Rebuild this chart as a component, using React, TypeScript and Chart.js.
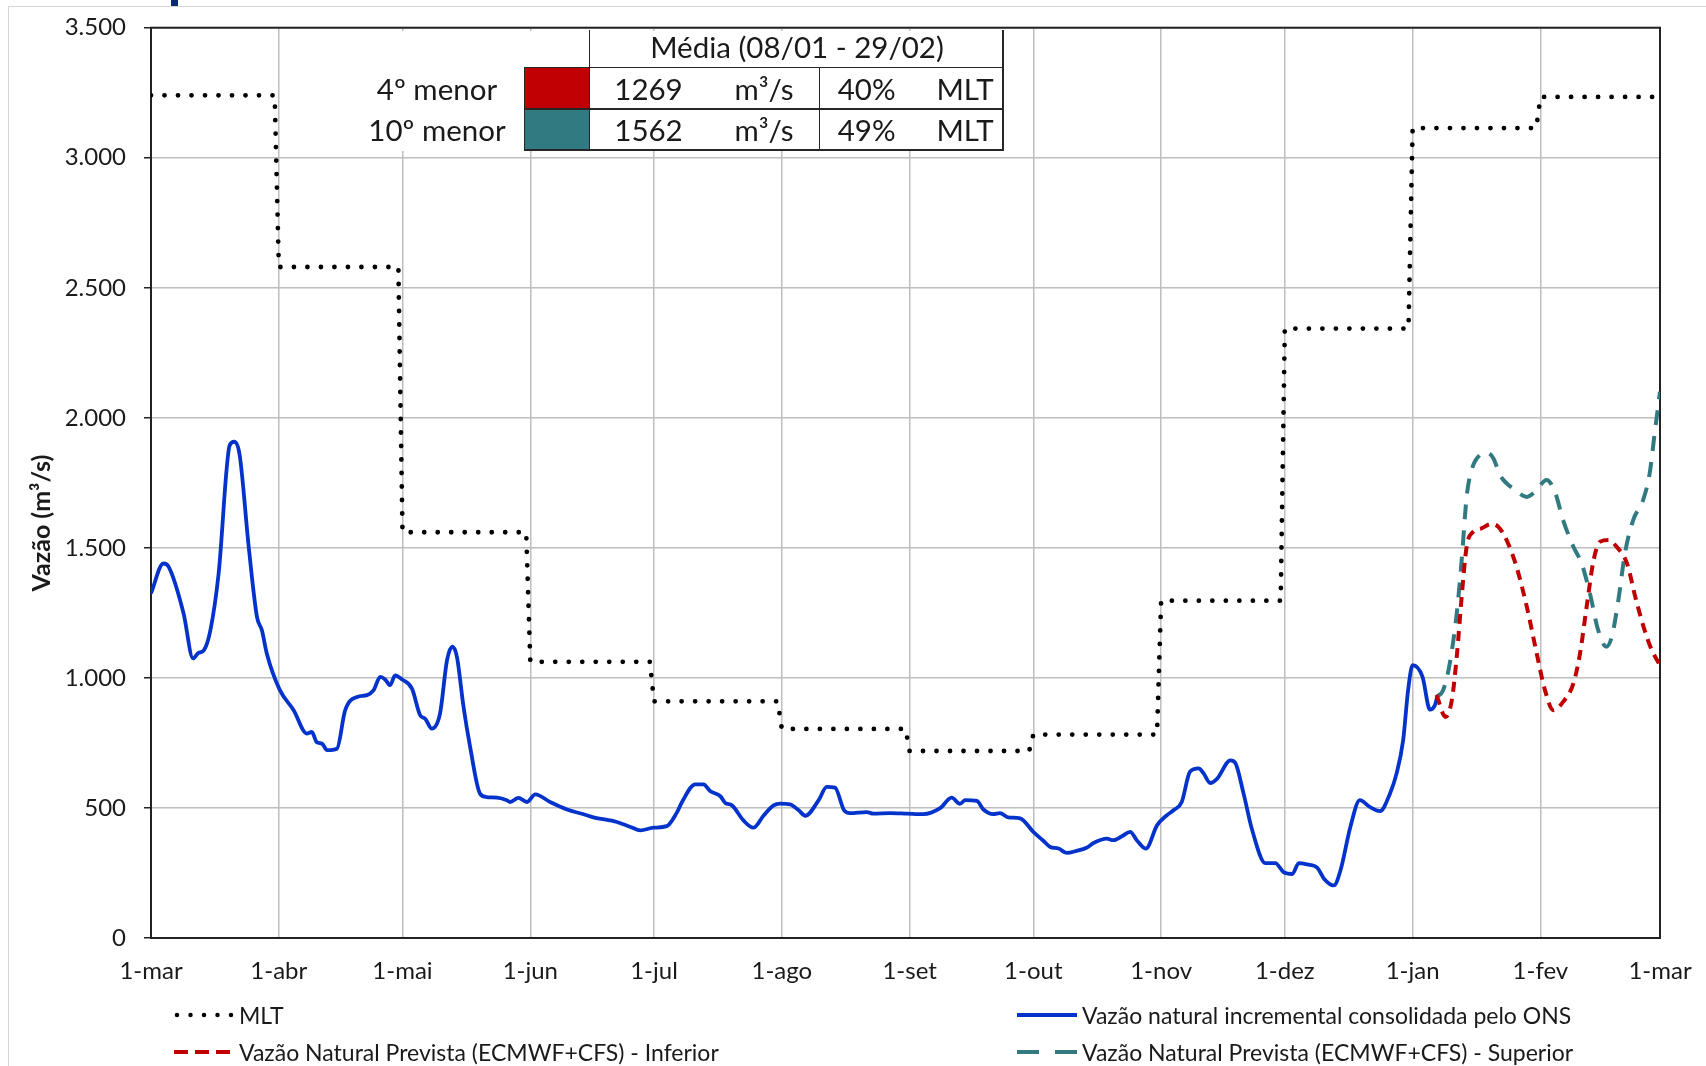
import React, { useEffect, useRef } from "react";
import { Chart, registerables } from "chart.js";

Chart.register(...registerables);

// ---------- DATA ----------
// x values are days counted from 1-mar (day 0) to 1-mar of the next year (day 366)
const monthStartDays = [0, 31, 61, 92, 122, 153, 184, 214, 245, 275, 306, 337, 366];
const monthLabels = ["1-mar", "1-abr", "1-mai", "1-jun", "1-jul", "1-ago", "1-set", "1-out", "1-nov", "1-dez", "1-jan", "1-fev", "1-mar"];

// MLT (monthly long-term mean), one value per month mar..fev
const mltMonthValues = [3240, 2580, 1560, 1062, 910, 804, 719, 782, 1297, 2343, 3114, 3234];

// Observed incremental natural flow (ONS)
const observedDays = [0, 3, 4.3, 7.9, 10.2, 11.5, 12.8, 14.4, 16.4, 19.1, 20.2, 21.5, 23.7, 25.7, 26.9, 28.1, 31.2, 34.6, 37.8, 39, 40.2, 41.5, 42.7, 45.1, 47.1, 50, 52.4, 54, 55.6, 56.8, 58, 59.2, 60.9, 63.3, 65.3, 66.5, 68.1, 70.1, 71.8, 73.1, 74.2, 75.8, 77.4, 79.8, 81.4, 83.9, 86.3, 87.1, 89.1, 91.2, 93.2, 96.8, 100.9, 104.9, 107.3, 113, 116.3, 118.7, 121.9, 125.1, 127.5, 128.8, 132, 134, 135.6, 138.1, 139.3, 140.9, 143.7, 146.1, 148.6, 151, 152.6, 155, 157.1, 158.7, 161.9, 163.9, 165.9, 168.1, 169.5, 173.6, 175.2, 179.2, 183.3, 187.3, 191.4, 194.2, 196.2, 197.5, 200.3, 201.9, 204.3, 205.9, 207.9, 210.8, 214, 216.5, 218.1, 220.1, 222.1, 224.5, 226.9, 228.6, 231.8, 233.4, 235.5, 237.5, 239.1, 241.3, 244, 246.4, 248, 250, 252, 254.1, 255.3, 256.9, 258.6, 261.8, 263, 265, 267.1, 270.3, 272.7, 274.7, 276.8, 278.4, 280.4, 282.9, 284.5, 286.9, 288.5, 290.9, 293.2, 295.6, 298.1, 300.5, 302.1, 303.7, 304.9, 306, 308.4, 310.2, 311.4, 312];
const observedValues = [1325, 1440, 1427, 1248, 1075, 1096, 1106, 1183, 1401, 1895, 1908, 1857, 1504, 1235, 1183, 1093, 955, 876, 786, 792, 753, 747, 722, 728, 876, 927, 934, 953, 1004, 994, 972, 1010, 994, 959, 856, 843, 805, 863, 1068, 1120, 1081, 889, 735, 555, 542, 540, 530, 523, 539, 523, 552, 523, 494, 476, 464, 446, 427, 414, 424, 430, 481, 523, 591, 591, 565, 545, 519, 510, 452, 424, 471, 510, 517, 514, 491, 470, 529, 581, 578, 491, 480, 484, 478, 480, 478, 476, 499, 540, 516, 530, 527, 494, 476, 480, 464, 460, 408, 373, 350, 344, 327, 335, 347, 365, 382, 376, 391, 408, 376, 344, 433, 472, 491, 523, 639, 652, 633, 596, 613, 683, 673, 555, 414, 288, 288, 253, 246, 288, 283, 270, 228, 202, 260, 427, 530, 504, 488, 555, 632, 760, 953, 1049, 1004, 878, 895, 930];

// Forecast (ECMWF+CFS) - lower bound
const lowerDays = [311.8, 314, 315.5, 316.7, 317.9, 319.1, 320.7, 322.7, 325.1, 326.8, 328.8, 331.2, 333.7, 336.1, 338.1, 340.1, 342.5, 345, 346.6, 348.2, 349.9, 351.5, 353.5, 355.5, 358, 360, 362, 364, 366];
const lowerValues = [934, 850, 914, 1081, 1312, 1504, 1562, 1575, 1592, 1581, 1530, 1427, 1273, 1094, 953, 876, 908, 979, 1094, 1273, 1453, 1524, 1530, 1504, 1440, 1312, 1197, 1107, 1049];

// Forecast (ECMWF+CFS) - upper bound
const upperDays = [311.8, 313.4, 315, 316.7, 317.9, 319.1, 320.3, 322.3, 324, 325.6, 327.2, 328.8, 330.4, 333.7, 335.7, 338.5, 340.5, 342.5, 345, 347, 349, 351, 353, 354.3, 355.9, 357.5, 359.5, 361.9, 363.5, 364.7, 366];
const upperValues = [927, 953, 1055, 1248, 1453, 1696, 1799, 1857, 1866, 1844, 1780, 1748, 1728, 1696, 1716, 1761, 1716, 1607, 1504, 1440, 1325, 1184, 1120, 1158, 1299, 1479, 1607, 1684, 1787, 1940, 2100];

// Summary table
const tableHeader = "Média (08/01 - 29/02)";
const rankLabels = ["4º menor", "10º menor"];
const rankFlows = [1269, 1562];
const rankPercents = [40, 49];

// Legend labels
const labelMLT = "MLT";
const labelObserved = "Vazão natural incremental consolidada pelo ONS";
const labelLower = "Vazão Natural Prevista (ECMWF+CFS) - Inferior";
const labelUpper = "Vazão Natural Prevista (ECMWF+CFS) - Superior";
const yTitle = "Vazão (m³/s)";

// ---------- STYLE ----------
const COLOR_OBS = "#0433CC";
const COLOR_LOWER = "#C00000";
const COLOR_UPPER = "#327A82";
const COLOR_MLT = "#000000";
const FONT = "Lato, 'Open Sans', sans-serif";
const TEXT = "#1a1a1a";

const W = 1706;
const H = 1066;

function buildMlt() {
  const pts: { x: number; y: number }[] = [];
  mltMonthValues.forEach((v, i) => {
    const start = monthStartDays[i];
    const end = i === mltMonthValues.length - 1 ? 365 : monthStartDays[i + 1] - 1;
    pts.push({ x: start, y: v });
    pts.push({ x: end, y: v });
  });
  return pts;
}

const zip = (xs: number[], ys: number[]) => xs.map((x, i) => ({ x, y: ys[i] }));

const fmtThousands = (v: number) => {
  if (v >= 1000) {
    const t = Math.floor(v / 1000);
    const r = String(v % 1000).padStart(3, "0");
    return `${t}.${r}`;
  }
  return String(v);
};

const plotBorder = {
  id: "plotBorder",
  beforeDatasetsDraw(chart: any) {
    const { ctx, chartArea: a } = chart;
    ctx.save();
    ctx.strokeStyle = "#222222";
    ctx.lineWidth = 2;
    ctx.strokeRect(a.left, a.top, a.right - a.left, a.bottom - a.top);
    ctx.restore();
  },
};

function Line({ x1, y1, x2, y2 }: { x1: number; y1: number; x2: number; y2: number }) {
  const t = 1.6;
  return (
    <div
      style={{
        position: "absolute",
        left: x1 - t / 2,
        top: y1 - t / 2,
        width: x2 - x1 + t,
        height: y2 - y1 + t,
        background: "#262626",
      }}
    />
  );
}

function CText({ cx, cy, size, children, bold }: any) {
  return (
    <div
      style={{
        position: "absolute",
        left: cx - 200,
        top: cy - 20,
        width: 400,
        height: 40,
        lineHeight: "40px",
        textAlign: "center",
        fontFamily: FONT,
        fontSize: size,
        fontWeight: bold ? 700 : 400,
        color: TEXT,
        whiteSpace: "nowrap",
      }}
    >
      {children}
    </div>
  );
}

function LegendItem({ x, y, kind, label }: { x: number; y: number; kind: string; label: string }) {
  let sample: any = null;
  if (kind === "mlt") {
    sample = <line x1={3} y1={7} x2={58} y2={7} stroke={COLOR_MLT} strokeWidth={4.5} strokeLinecap="round" strokeDasharray="0 13.5" />;
  } else if (kind === "obs") {
    sample = <line x1={0} y1={7} x2={60} y2={7} stroke={COLOR_OBS} strokeWidth={4} />;
  } else if (kind === "lower") {
    sample = <line x1={0} y1={7} x2={56} y2={7} stroke={COLOR_LOWER} strokeWidth={4} strokeDasharray="14 7" />;
  } else {
    sample = <line x1={0} y1={7} x2={60} y2={7} stroke={COLOR_UPPER} strokeWidth={4} strokeDasharray="22 16" />;
  }
  return (
    <div style={{ position: "absolute", left: x, top: y - 16, height: 32, display: "flex", alignItems: "center", whiteSpace: "nowrap" }}>
      <svg width={62} height={14} style={{ display: "block" }}>
        {sample}
      </svg>
      <span style={{ marginLeft: 3, fontFamily: FONT, fontSize: 23, color: TEXT }}>{label}</span>
    </div>
  );
}

const zeroPadding = (scale: any) => {
  scale.paddingTop = 0;
  scale.paddingBottom = 0;
  scale.paddingLeft = 0;
  scale.paddingRight = 0;
};

export default function App() {
  const canvasRef = useRef<HTMLCanvasElement>(null);

  useEffect(() => {
    const canvas = canvasRef.current;
    if (!canvas) return;
    const chart = new Chart(canvas, {
      type: "line",
      data: {
        datasets: [
          {
            label: labelLower,
            data: zip(lowerDays, lowerValues),
            borderColor: COLOR_LOWER,
            borderWidth: 4,
            borderDash: [10, 7],
            pointRadius: 0,
            cubicInterpolationMode: "monotone",
            fill: false,
          },
          {
            label: labelUpper,
            data: zip(upperDays, upperValues),
            borderColor: COLOR_UPPER,
            borderWidth: 4,
            borderDash: [15, 11],
            pointRadius: 0,
            cubicInterpolationMode: "monotone",
            fill: false,
          },
          {
            label: labelObserved,
            data: zip(observedDays, observedValues),
            borderColor: COLOR_OBS,
            borderWidth: 3.8,
            pointRadius: 0,
            cubicInterpolationMode: "monotone",
            fill: false,
          },
          {
            label: labelMLT,
            data: buildMlt(),
            borderColor: COLOR_MLT,
            borderWidth: 4.8,
            borderDash: [0, 13.5],
            borderCapStyle: "round",
            pointRadius: 0,
            tension: 0,
            fill: false,
          },
        ],
      },
      options: {
        animation: false,
        responsive: false,
        maintainAspectRatio: false,
        events: [],
        layout: { padding: { top: 27.7, right: 46, left: 0, bottom: 0 } },
        plugins: { legend: { display: false }, tooltip: { enabled: false }, title: { display: false } },
        scales: {
          x: {
            type: "linear",
            min: 0,
            max: 366,
            afterBuildTicks: (scale: any) => {
              scale.ticks = monthStartDays.map((v) => ({ value: v }));
            },
            afterFit: (scale: any) => {
              scale.height = H - 938;
              zeroPadding(scale);
            },
            ticks: {
              autoSkip: false,
              maxRotation: 0,
              minRotation: 0,
              padding: 19,
              color: TEXT,
              font: { family: FONT, size: 24 },
              callback: (_v: any, i: number) => monthLabels[i],
            },
            grid: { color: "#BEBEBE", lineWidth: 1.5, drawTicks: false },
            border: { display: false },
          },
          y: {
            min: 0,
            max: 3500,
            afterFit: (scale: any) => {
              scale.width = 151;
              zeroPadding(scale);
            },
            ticks: {
              stepSize: 500,
              padding: 18,
              color: TEXT,
              font: { family: FONT, size: 24 },
              callback: (v: any) => fmtThousands(Number(v)),
            },
            grid: { color: "#BEBEBE", lineWidth: 1.5, tickLength: 7, tickColor: "#222222", tickWidth: 1.5 },
            border: { display: false },
          },
        },
      },
      plugins: [plotBorder],
    } as any);
    return () => chart.destroy();
  }, []);

  // table geometry (px)
  const tx0 = 524.4, tx1 = 589.7, tx2 = 819.3, tx3 = 1003.1;
  const ty0 = 31, ty1 = 67.5, ty2 = 108.8, ty3 = 150.1;

  return (
    <div style={{ position: "absolute", left: 0, top: 0, width: W, height: H, background: "#ffffff", overflow: "hidden" }}>
      {/* slide frame */}
      <div style={{ position: "absolute", left: 8, top: 6, width: W, height: H, borderLeft: "1.5px solid #D6D6D6", borderTop: "1.5px solid #D6D6D6" }} />
      <div style={{ position: "absolute", left: 171, top: 0, width: 7, height: 6, background: "#0B2B6E" }} />

      <canvas ref={canvasRef} width={W} height={H} style={{ position: "absolute", left: 0, top: 0, width: W, height: H }} />

      {/* y axis title */}
      <div
        style={{
          position: "absolute",
          left: 40 - 110,
          top: 523 - 16,
          width: 220,
          height: 32,
          lineHeight: "32px",
          textAlign: "center",
          transform: "rotate(-90deg)",
          fontFamily: FONT,
          fontWeight: 700,
          fontSize: 25,
          color: TEXT,
          whiteSpace: "nowrap",
        }}
      >
        {yTitle}
      </div>

      {/* summary table */}
      <div style={{ position: "absolute", left: 330, top: ty0, width: tx3 - 330, height: ty3 - ty0 + 1, background: "#ffffff" }} />
      <div style={{ position: "absolute", left: tx0, top: ty1, width: tx1 - tx0, height: ty2 - ty1, background: COLOR_LOWER }} />
      <div style={{ position: "absolute", left: tx0, top: ty2, width: tx1 - tx0, height: ty3 - ty2, background: COLOR_UPPER }} />
      <Line x1={tx1} y1={ty0} x2={tx1} y2={ty3} />
      <Line x1={tx3} y1={ty0} x2={tx3} y2={ty3} />
      <Line x1={tx2} y1={ty1} x2={tx2} y2={ty3} />
      <Line x1={tx0} y1={ty1} x2={tx0} y2={ty3} />
      <Line x1={tx0} y1={ty1} x2={tx3} y2={ty1} />
      <Line x1={tx0} y1={ty2} x2={tx3} y2={ty2} />
      <Line x1={tx0} y1={ty3} x2={tx3} y2={ty3} />
      <CText cx={797} cy={47} size={29.5}>{tableHeader}</CText>
      {rankLabels.map((lab, i) => {
        const cy = i === 0 ? 88.5 : 129.5;
        return (
          <React.Fragment key={lab}>
            <CText cx={437} cy={cy} size={29.5}>{lab}</CText>
            <CText cx={648.5} cy={cy} size={29.5}>{String(rankFlows[i])}</CText>
            <CText cx={764} cy={cy} size={29.5}>m³/s</CText>
            <CText cx={866.6} cy={cy} size={29.5}>{`${rankPercents[i]}%`}</CText>
            <CText cx={965} cy={cy} size={29.5}>MLT</CText>
          </React.Fragment>
        );
      })}

      {/* legend */}
      <LegendItem x={174} y={1015} kind="mlt" label={labelMLT} />
      <LegendItem x={174} y={1052} kind="lower" label={labelLower} />
      <LegendItem x={1017} y={1015} kind="obs" label={labelObserved} />
      <LegendItem x={1017} y={1052} kind="upper" label={labelUpper} />
    </div>
  );
}
